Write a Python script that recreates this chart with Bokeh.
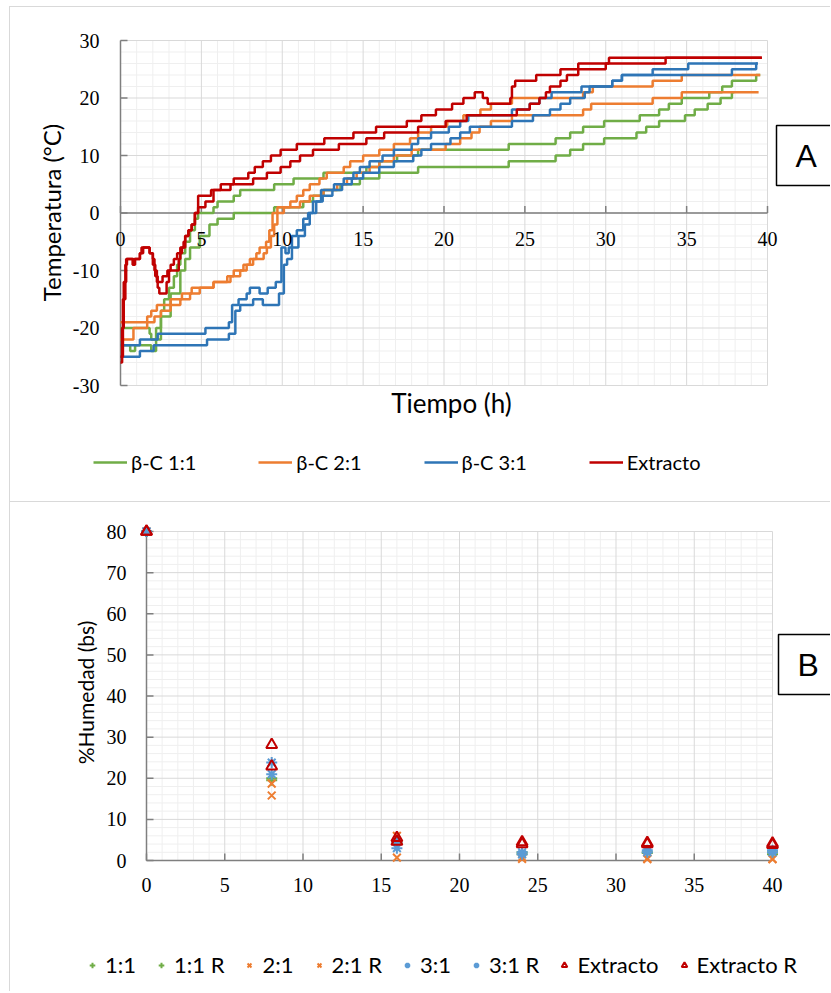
from math import pi
from bokeh.plotting import figure
from bokeh.layouts import column
from bokeh.models import (Range1d, Label, LabelSet, Legend, LegendItem, ColumnDataSource)
from bokeh.embed import file_html
from bokeh.resources import INLINE

# ---------------- Panel A data (temperature step curves) ----------------
T_RED_A = [0, 0.1, 0.2, 0.35, 0.8, 0.9, 1.2, 1.3, 1.8, 2.0, 2.1, 2.25, 2.6, 2.9, 3.1, 3.3, 3.5, 3.7, 3.9, 4.0,
           4.2, 4.4, 4.6, 4.8, 5.6, 6.2, 7.0, 7.9, 8.3, 8.8, 9.3, 9.9, 10.9, 12.6, 14.4, 15.8, 17.7, 18.6, 19.5, 20.5,
           21.2, 21.9, 22.4, 22.7, 24.1, 24.2, 24.4, 25.7, 27.2, 28.3, 30.2, 39.65]
V_RED_A = [-26, -20, -12, -8, -9, -8, -7, -6, -7, -8, -10, -12, -11, -10, -9, -8, -7, -6, -5, -4,
           -3, -2, 0, 3, 4, 5, 6, 7, 8, 9, 10, 11, 12, 13, 14, 15, 16, 17, 18, 19,
           20, 21, 20, 19, 20, 22, 23, 24, 25, 26, 27, 27]
T_RED_B = [0, 0.15, 0.3, 0.4, 0.75, 0.85, 1.2, 1.4, 1.8, 2.0, 2.15, 2.3, 2.4, 2.85, 3.0, 3.6, 3.7, 3.8, 4.0, 4.2,
           4.4, 4.6, 4.8, 5.25, 5.75, 6.8, 8.2, 9.05, 9.9, 10.5, 11.1, 11.9, 13.5, 15.2, 16.3, 18.4, 20.1, 21.4, 24.5, 25.3,
           25.9, 26.3, 26.55, 27.2, 27.6, 28.3, 30.0, 33.7, 39.65]
V_RED_B = [-25, -15, -9, -8, -9, -8, -7, -6, -7, -9, -11, -13, -14, -12, -10, -8, -7, -6, -4, -3,
           -2, 0, 1, 2, 4, 5, 6, 7, 8, 9, 10, 11, 12, 13, 14, 15, 16, 17, 18, 19,
           20, 21, 22, 23, 24, 25, 26, 27, 27]
T_BLUE_A = [0, 1.2, 2.3, 5.25, 6.7, 6.9, 7.3, 7.8, 8.0, 8.6, 9.1, 9.6, 9.95, 10.2, 10.4, 10.6, 10.9, 11.3, 11.6, 11.9,
            12.4, 13.2, 13.8, 14.4, 14.8, 15.4, 16.2, 16.9, 18.0, 18.4, 19.2, 20.3, 21.0, 21.5, 24.2, 25.3, 25.9, 26.65,
            28.5, 30.4, 31.0, 32.9, 35.1, 39.4]
V_BLUE_A = [-23, -22, -21, -20, -19, -16, -15, -14, -13, -14, -13, -12, -6, -7, -6, -4, -3, -1, 0, 2,
            4, 5, 6, 7, 8, 9, 10, 11, 12, 13, 14, 15, 16, 17, 18, 19, 20, 21,
            22, 23, 24, 25, 26, 26]
T_BLUE_B = [0, 1.2, 2.05, 5.35, 6.7, 7.1, 7.4, 8.2, 8.8, 9.8, 10.1, 10.3, 10.6, 11.0, 11.4, 11.7, 12.1, 12.5, 13.1, 13.7,
            14.3, 15.0, 16.0, 16.9, 18.1, 18.6, 19.2, 20.4, 21.0, 21.6, 24.2, 25.5, 26.55, 27.2, 27.8, 28.7, 29.0, 30.4,
            31.0, 37.8, 39.3, 39.4]
V_BLUE_B = [-25, -24, -23, -22, -21, -17, -16, -15, -16, -14, -9, -8, -6, -4, -2, 0, 2, 3, 4, 5,
            6, 7, 8, 9, 10, 11, 12, 13, 14, 15, 16, 17, 18, 19, 20, 21, 22, 23,
            24, 25, 26, 26]
T_ORANGE_A = [0, 1.65, 1.9, 2.25, 3.1, 3.8, 4.4, 5.75, 6.6, 7.0, 7.6, 8.0, 8.4, 8.6, 9.0, 9.2, 9.4, 9.7, 10.5, 10.9,
              11.3, 11.7, 12.3, 12.75, 13.8, 14.2, 15.0, 16.0, 16.9, 17.9, 18.4, 19.2, 20.2, 21.2, 22.25, 22.9, 24.2,
              28.6, 29.2, 32.9, 34.7, 39.55]
V_ORANGE_A = [-19, -18, -17, -16, -15, -14, -13, -12, -11, -10, -9, -8, -7, -6, -5, -3, 0, 1, 2, 3,
              4, 5, 6, 7, 8, 9, 10, 11, 12, 13, 14, 15, 16, 17, 18, 19, 20,
              21, 22, 23, 24, 24]
T_ORANGE_B = [0, 0.8, 1.65, 2.1, 2.5, 3.1, 3.7, 4.3, 4.9, 5.75, 6.8, 7.4, 7.8, 8.2, 8.85, 9.05, 9.3, 9.5, 9.7, 10.1,
              11.1, 11.7, 12.55, 13.4, 14.0, 14.6, 15.4, 16.0, 16.9, 18.0, 20.1, 21.0, 21.7, 22.2, 22.9, 24.2, 28.6,
              29.1, 32.9, 34.7, 39.45]
V_ORANGE_B = [-22, -20, -19, -18, -17, -16, -15, -14, -13, -12, -11, -10, -9, -8, -7, -6, -4, -2, 0, 1,
              2, 3, 4, 5, 6, 7, 8, 9, 10, 11, 12, 13, 14, 15, 16, 17, 18,
              19, 20, 21, 21]
T_GREEN_A = [0, 1.8, 1.9, 2.2, 2.5, 2.7, 3.0, 3.3, 3.5, 3.7, 4.0, 4.3, 4.6, 4.8, 5.75, 6.0, 7.0, 7.4, 9.5, 10.7,
             12.55, 15.2, 16.0, 17.1, 18.4, 24.0, 26.9, 27.8, 28.6, 29.9, 32.1, 33.3, 33.9, 34.7, 36.4, 37.2, 37.8,
             39.3, 39.55]
V_GREEN_A = [-20, -21, -22, -20, -17, -15, -13, -11, -9, -7, -5, -3, -1, 0, 1, 2, 3, 4, 5, 6,
             7, 8, 9, 10, 11, 12, 13, 14, 15, 16, 17, 18, 19, 20, 21, 22, 23,
             24, 24]
T_GREEN_B = [0, 0.6, 0.9, 1.9, 2.2, 2.5, 3.1, 3.7, 4.0, 4.3, 4.9, 5.5, 6.0, 7.0, 9.5, 11.3, 11.9, 12.55, 13.6, 14.8,
             16.0, 18.4, 24.0, 26.9, 27.8, 28.6, 29.9, 31.9, 32.5, 33.3, 34.9, 35.5, 36.3, 37.1, 37.8, 37.95]
V_GREEN_B = [-23, -24, -23, -24, -22, -18, -14, -10, -8, -6, -4, -2, -1, 0, 1, 2, 3, 4, 5, 6,
             7, 8, 9, 10, 11, 12, 13, 14, 15, 16, 17, 18, 19, 20, 21, 21]

LEGEND_A = ["β-C 1:1", "β-C 2:1", "β-C 3:1", "Extracto"]
X_TICKS_A = [0, 5, 10, 15, 20, 25, 30, 35, 40]
Y_TICKS_A = [-30, -20, -10, 0, 10, 20, 30]

# ---------------- Panel B data (moisture) ----------------
X_B = [0, 8, 16, 24, 32, 40]
H_11 = [80, 20.0, 4.0, 1.5, 1.8, 1.5]
H_11R = [80, 19.5, 4.5, 2.0, 2.0, 2.0]
H_21 = [80, 18.7, 6.0, 0.8, 0.5, 0.3]
H_21R = [80, 15.8, 0.7, 0.4, 0.3, 0.4]
H_31 = [80, 23.8, 3.0, 1.5, 2.0, 2.0]
H_31R = [80, 21.0, 4.5, 2.0, 2.5, 2.5]
H_EX = [80, 28.1, 5.5, 4.5, 4.3, 4.2]
H_EXR = [80, 22.9, 4.6, 4.0, 4.0, 3.8]
LEGEND_B = ["1:1", "1:1 R", "2:1", "2:1 R", "3:1", "3:1 R", "Extracto", "Extracto R"]
X_TICKS_B = [0, 5, 10, 15, 20, 25, 30, 35, 40]
Y_TICKS_B = [0, 10, 20, 30, 40, 50, 60, 70, 80]

GREEN = "#70ad47"
ORANGE = "#ed7d31"
BLUE = "#2e75b6"
BLUE_M = "#5b9bd5"
RED = "#c00000"
AX = "#7f7f7f"
GRID = "#d9d9d9"
MINOR = "#efefef"
FONT = "Lato"
PANEL_BORDER = {"border-top": "1px solid #d9d9d9", "border-left": "1px solid #d9d9d9"}


def fit_range(d0, d1, p0, p1, total):
    """data d0..d1 lands on pixels p0..p1 of a frame that is `total` px long"""
    s = (d1 - d0) / (p1 - p0)
    return Range1d(d0 - p0 * s, d1 + (total - p1) * s)


def draw_axes(p, xt, yt, x_minor_step, y_minor_step, x_axis_at, y_axis_at, xlab_off, ylab_off):
    x0, x1 = xt[0], xt[-1]
    y0, y1 = yt[0], yt[-1]
    xm = [x0 + i * x_minor_step for i in range(int(round((x1 - x0) / x_minor_step)) + 1)]
    ym = [y0 + i * y_minor_step for i in range(int(round((y1 - y0) / y_minor_step)) + 1)]
    xm = [v for v in xm if v not in xt]
    ym = [v for v in ym if v not in yt]
    p.segment(x0=xm, y0=[y0] * len(xm), x1=xm, y1=[y1] * len(xm), line_color=MINOR, line_width=1)
    p.segment(x0=[x0] * len(ym), y0=ym, x1=[x1] * len(ym), y1=ym, line_color=MINOR, line_width=1)
    p.segment(x0=xt, y0=[y0] * len(xt), x1=xt, y1=[y1] * len(xt), line_color=GRID, line_width=1)
    p.segment(x0=[x0] * len(yt), y0=yt, x1=[x1] * len(yt), y1=yt, line_color=GRID, line_width=1)
    # axis lines
    p.segment(x0=[x0], y0=[x_axis_at], x1=[x1], y1=[x_axis_at], line_color=AX, line_width=1.5)
    p.segment(x0=[y_axis_at], y0=[y0], x1=[y_axis_at], y1=[y1], line_color=AX, line_width=1.5)
    # inside ticks
    p.ray(x=xt, y=[x_axis_at] * len(xt), length=7, angle=pi / 2, length_units="screen",
          line_color=AX, line_width=1.5)
    p.ray(x=[y_axis_at] * len(yt), y=yt, length=7, angle=0, length_units="screen",
          line_color=AX, line_width=1.5)
    # tick labels
    xs = ColumnDataSource(dict(x=xt, y=[x_axis_at] * len(xt), t=[str(v) for v in xt]))
    ys = ColumnDataSource(dict(x=[y_axis_at] * len(yt), y=yt, t=[str(v) for v in yt]))
    p.add_layout(LabelSet(x="x", y="y", text="t", source=xs, text_align="center", text_baseline="top",
                          y_offset=xlab_off, text_font=FONT, text_font_size="20px", text_color="black"))
    p.add_layout(LabelSet(x="x", y="y", text="t", source=ys, text_align="right", text_baseline="middle",
                          x_offset=ylab_off, text_font=FONT, text_font_size="20px", text_color="black"))


def box_label(p, txt, sx, sy):
    p.add_layout(Label(x=sx, y=sy, x_units="screen", y_units="screen", text=txt, anchor="top_left",
                       padding=dict(left=19, right=19, top=12, bottom=12),
                       border_line_color="black", border_line_width=1.5, background_fill_color="white",
                       text_font="Liberation Sans", text_font_size="32px", text_color="black"))


# ======================= Panel A =======================
W1, H1 = 821, 495
p1 = figure(width=W1, height=H1, x_range=fit_range(0, 40, 110, 757, W1),
            y_range=fit_range(-30, 30, H1 - 378, H1 - 33, H1),
            x_axis_type=None, y_axis_type=None, output_backend="svg", toolbar_location=None,
            min_border=0, margin=(6, 0, 0, 9), outline_line_color=None)
p1.styles = PANEL_BORDER
draw_axes(p1, X_TICKS_A, Y_TICKS_A, 1, 2, 0, 0, -19, -21)

series_a = [
    (LEGEND_A[0], GREEN, [(T_GREEN_A, V_GREEN_A), (T_GREEN_B, V_GREEN_B)]),
    (LEGEND_A[1], ORANGE, [(T_ORANGE_A, V_ORANGE_A), (T_ORANGE_B, V_ORANGE_B)]),
    (LEGEND_A[2], BLUE, [(T_BLUE_A, V_BLUE_A), (T_BLUE_B, V_BLUE_B)]),
    (LEGEND_A[3], RED, [(T_RED_A, V_RED_A), (T_RED_B, V_RED_B)]),
]
items_a = []
for name, col, lines in series_a:
    rs = [p1.step(x=t, y=v, mode="after", line_color=col, line_width=2.5) for t, v in lines]
    items_a.append(LegendItem(label=name, renderers=[rs[0]]))

leg1 = Legend(items=items_a, orientation="horizontal", location=(83, H1 - 467),
              glyph_width=34, glyph_height=20, label_standoff=4, spacing=62,
              padding=0, margin=0, border_line_color=None, background_fill_alpha=0,
              label_text_font=FONT, label_text_font_size="20px", label_text_color="black")
p1.add_layout(leg1)

p1.add_layout(Label(x=41, y=H1 - 205, x_units="screen", y_units="screen", text="Temperatura (°C)",
                    angle=pi / 2, text_align="center", text_baseline="middle", text_font=FONT,
                    text_font_size="24px", text_color="black"))
p1.add_layout(Label(x=441, y=H1 - 395, x_units="screen", y_units="screen", text="Tiempo (h)",
                    text_align="center", text_baseline="middle", text_font=FONT,
                    text_font_size="26px", text_color="black"))
box_label(p1, "A", 766, H1 - 118)

# ======================= Panel B =======================
W2, H2 = 821, 490
p2 = figure(width=W2, height=H2, x_range=fit_range(0, 40, 136, 762, W2),
            y_range=fit_range(0, 80, H2 - 358, H2 - 29, H2),
            x_axis_type=None, y_axis_type=None, output_backend="svg", toolbar_location=None,
            min_border=0, margin=(0, 0, 0, 9), outline_line_color=None)
p2.styles = PANEL_BORDER
draw_axes(p2, X_TICKS_B, Y_TICKS_B, 1, 2, 0, 0, -17, -20)

series_b = [
    (LEGEND_B[0], H_11, "cross", GREEN, 11),
    (LEGEND_B[1], H_11R, "cross", GREEN, 11),
    (LEGEND_B[2], H_21, "x", ORANGE, 11),
    (LEGEND_B[3], H_21R, "x", ORANGE, 11),
    (LEGEND_B[4], H_31, "asterisk", BLUE_M, 11),
    (LEGEND_B[5], H_31R, "asterisk", BLUE_M, 11),
    (LEGEND_B[6], H_EX, "triangle", RED, 11),
    (LEGEND_B[7], H_EXR, "triangle", RED, 11),
]
items_b = []
for name, vals, mk, col, sz in series_b:
    r = p2.scatter(x=X_B, y=vals, marker=mk, size=sz, line_color=col, fill_color=None, line_width=2)
    items_b.append(LegendItem(label=name, renderers=[r]))

leg2 = Legend(items=items_b, orientation="horizontal", location=(75, H2 - 476),
              glyph_width=14, glyph_height=20, label_standoff=6, spacing=18,
              padding=0, margin=0, border_line_color=None, background_fill_alpha=0,
              label_text_font=FONT, label_text_font_size="22px", label_text_color="black")
p2.add_layout(leg2)

p2.add_layout(Label(x=75, y=H2 - 190, x_units="screen", y_units="screen", text="%Humedad (bs)",
                    angle=pi / 2, text_align="center", text_baseline="middle", text_font=FONT,
                    text_font_size="21px", text_color="black"))
box_label(p2, "B", 768, H2 - 132)

layout = column(p1, p2, spacing=0)
open("out.html", "w").write(file_html(layout, INLINE))
